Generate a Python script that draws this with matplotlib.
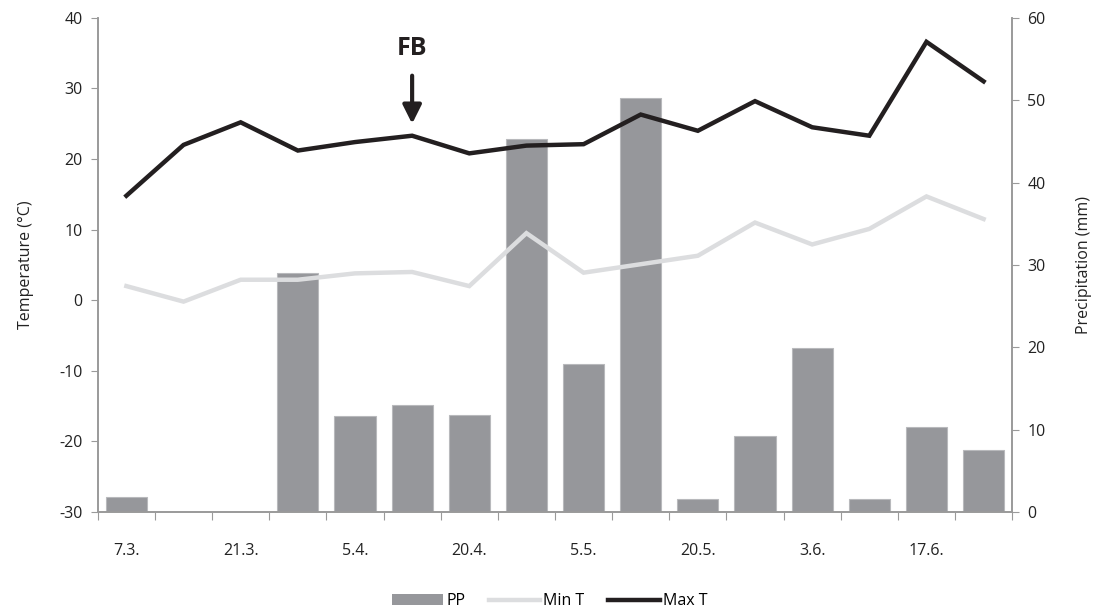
import numpy as np
import matplotlib.pyplot as plt
from matplotlib.patches import Patch
from matplotlib.lines import Line2D

plt.rcParams['font.family'] = ['Open Sans', 'DejaVu Sans']
plt.rcParams['axes.unicode_minus'] = False

# data (16 sampling dates, every second one labelled)
date_labels = ['7.3.', '21.3.', '5.4.', '20.4.', '5.5.', '20.5.', '3.6.', '17.6.']
pp = [1.8, 0, 0, 29.0, 11.6, 13.0, 11.8, 45.3, 18.0, 50.3, 1.6, 9.2, 19.9, 1.6, 10.3, 7.5]
min_t = [2.0, -0.2, 2.9, 2.9, 3.8, 4.0, 2.0, 9.5, 3.9, 5.1, 6.3, 11.0, 7.9, 10.1, 14.7, 11.5]
max_t = [14.8, 22.0, 25.2, 21.2, 22.4, 23.3, 20.8, 21.9, 22.1, 26.3, 24.0, 28.2, 24.5, 23.3, 36.6, 31.0]

bar_col = '#96979b'
min_col = '#dcdddf'
max_col = '#231f20'
axis_col = '#9a9a9a'
txt_col = '#222222'

x = np.arange(len(pp))

fig = plt.figure(figsize=(10.99, 6.15), dpi=100)
ax = fig.add_axes([0.089, 0.1675, 0.832, 0.8035])
ax2 = ax.twinx()

# bars on the right (precipitation) axis, lines on top
ax2.bar(x, pp, width=0.72, color=bar_col, edgecolor='#b8b9bc', linewidth=0.8)
ax.set_zorder(ax2.get_zorder() + 1)
ax.patch.set_visible(False)

ax.plot(x, min_t, color=min_col, lw=3.2, solid_joinstyle='miter')
ax.plot(x, max_t, color=max_col, lw=3.2, solid_joinstyle='miter')

ax.set_xlim(-0.5, len(pp) - 0.5)
ax.set_ylim(-30, 40)
ax.set_yticks(np.arange(-30, 41, 10))
ax2.set_ylim(0, 60)
ax2.set_yticks(np.arange(0, 61, 10))

# boundary ticks without labels, labels on every second category
ax.set_xticks(np.arange(-0.5, len(pp), 1))
ax.set_xticklabels([])
ax.set_xticks(np.arange(0, len(pp), 2), minor=True)
ax.set_xticklabels(date_labels, minor=True)
ax.tick_params(axis='x', which='major', length=6, color=axis_col, direction='out')
ax.tick_params(axis='x', which='minor', length=0, pad=22, labelsize=11.5, labelcolor=txt_col)
ax.tick_params(axis='y', length=5, color=axis_col, labelsize=11.5, labelcolor=txt_col, pad=6)
ax2.tick_params(axis='y', length=5, color=axis_col, labelsize=11.5, labelcolor=txt_col, pad=6)

for a in (ax, ax2):
    a.spines['top'].set_visible(False)
    for s in ('left', 'right', 'bottom'):
        a.spines[s].set_color(axis_col)
        a.spines[s].set_linewidth(1.2)

ax.set_ylabel('Temperature (°C)', fontsize=11.5, color=txt_col, labelpad=18)
ax2.set_ylabel('Precipitation (mm)', fontsize=11.5, color=txt_col, labelpad=22)

# FB arrow
ax.annotate('', xy=(5, 24.6), xytext=(5, 32.2),
            arrowprops=dict(arrowstyle='-|>', color=max_col, lw=3, mutation_scale=28))
ax.text(5, 35.6, 'FB', ha='center', va='center', fontsize=18, fontweight='bold', color=max_col)

handles = [Patch(facecolor=bar_col, edgecolor='none'),
           Line2D([], [], color=min_col, lw=3.2),
           Line2D([], [], color=max_col, lw=3.2)]
fig.legend(handles, ['PP', 'Min T', 'Max T'], loc='lower center', ncol=3,
           bbox_to_anchor=(0.5, -0.014), frameon=False, fontsize=11.5,
           handlelength=3.2, handletextpad=0.2, columnspacing=1.5)

fig.savefig('out.png', dpi=100)
